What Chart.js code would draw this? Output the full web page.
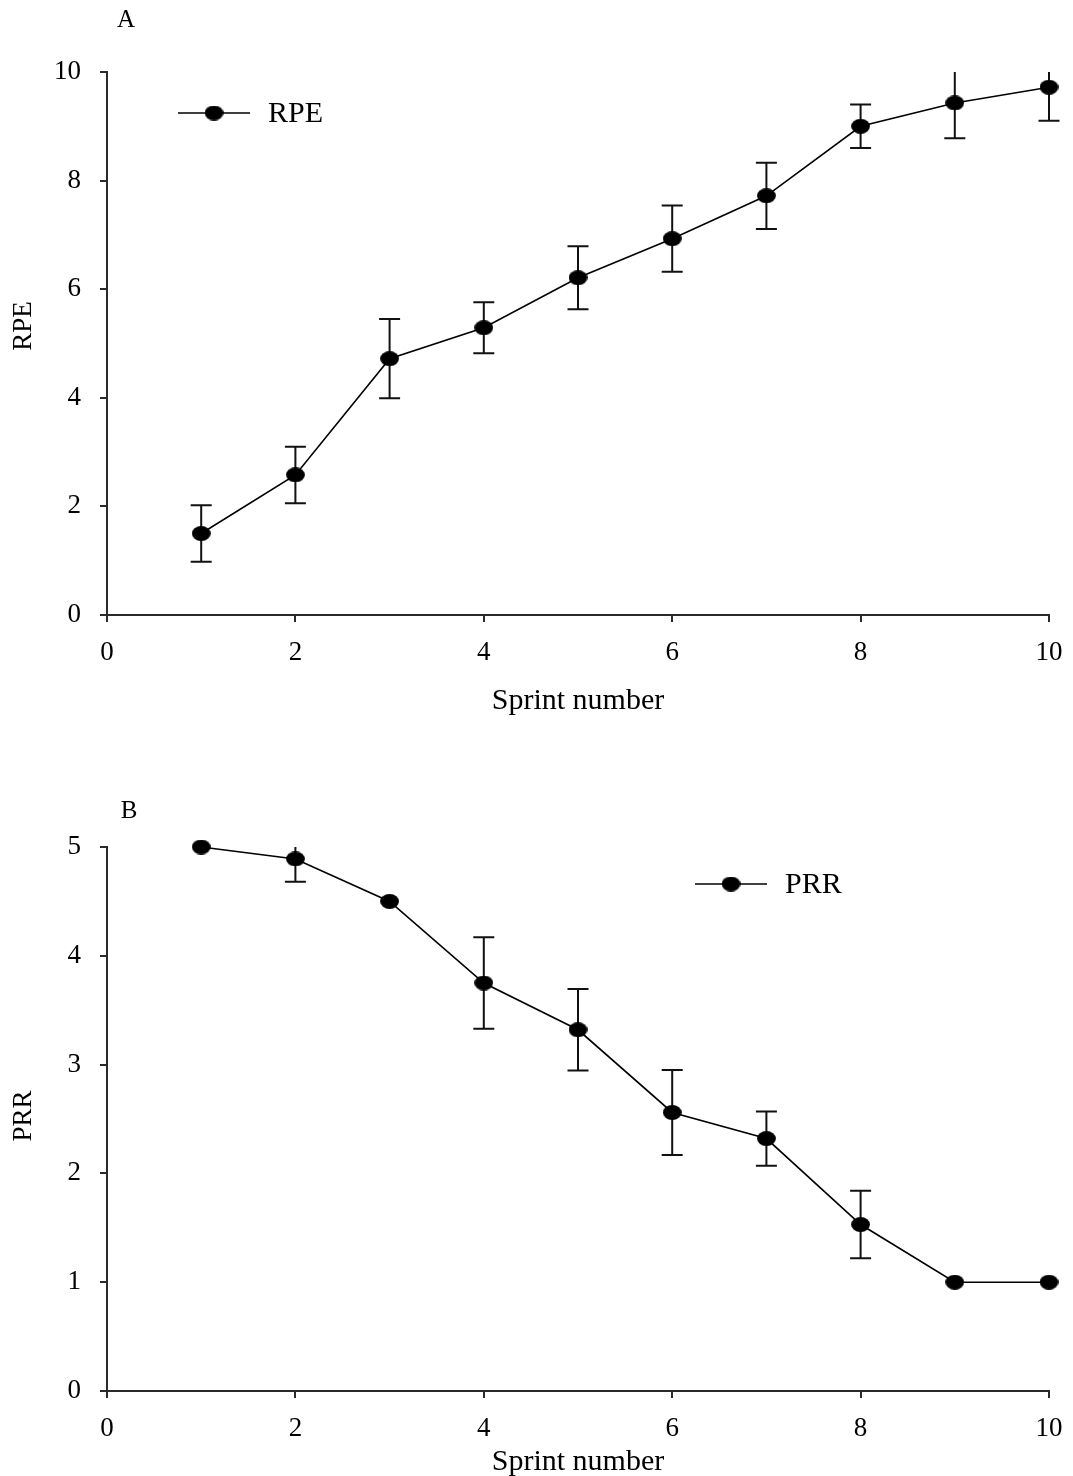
<!DOCTYPE html>
<html>
<head>
<meta charset="utf-8">
<script src="https://cdn.jsdelivr.net/npm/chart.js@4.4.1/dist/chart.umd.min.js"></script>
<style>
  html, body { margin: 0; padding: 0; background: #fff; }
  #wrap { position: relative; width: 1073px; height: 1476px; overflow: hidden; }
  canvas { position: absolute; left: 0; }
  #chartA { top: 0; }
  #chartB { top: 740px; }
</style>
</head>
<body>
<div id="wrap">
  <canvas id="chartA" width="1073" height="740"></canvas>
  <canvas id="chartB" width="1073" height="736"></canvas>
</div>
<script>
// Sprint index (x values shared by both panels)
const sprints = [1, 2, 3, 4, 5, 6, 7, 8, 9, 10];

// Panel A: rating of perceived exertion, mean and SD per sprint
const rpeMean = [1.50, 2.58, 4.72, 5.29, 6.21, 6.93, 7.72, 9.00, 9.43, 9.72];
const rpeSD   = [0.52, 0.52, 0.73, 0.47, 0.58, 0.61, 0.61, 0.40, 0.65, 0.62];

// Panel B: perceived recovery rating, mean and SD per sprint
const prrMean = [5.00, 4.89, 4.50, 3.75, 3.32, 2.56, 2.32, 1.53, 1.00, 1.00];
const prrSD   = [0, 0.21, 0, 0.42, 0.375, 0.39, 0.25, 0.31, 0, 0];

// Axis tick settings
const xTickMax = 10, xTickStep = 2;
const rpeTickMax = 10, rpeTickStep = 2;
const prrTickMax = 5, prrTickStep = 1;

const FONT = "'Liberation Serif', 'Times New Roman', serif";
const AXIS = '#2a2a2a';

// Filled black ellipse used as the marker
function makeMarker() {
  const c = document.createElement('canvas');
  c.width = 19; c.height = 15;
  const g = c.getContext('2d');
  g.fillStyle = '#000';
  g.beginPath();
  g.ellipse(9.5, 7.5, 9.4, 7.4, 0, 0, Math.PI * 2);
  g.fill();
  return c;
}
const marker = makeMarker();

// Vertical SD whiskers with caps; whiskers running past the axis limits stop there without a cap
const errorBars = {
  id: 'errorBars',
  beforeDatasetsDraw(chart) {
    const { ctx, scales: { x, y } } = chart;
    const ds = chart.data.datasets[0];
    const errs = ds.errors || [];
    const cap = 10.5;
    ctx.save();
    ctx.strokeStyle = '#111';
    ctx.lineWidth = 2;
    ds.data.forEach((p, i) => {
      const e = errs[i];
      if (!e) return;
      const px = x.getPixelForValue(p.x);
      const hi = p.y + e, lo = p.y - e;
      const yHi = y.getPixelForValue(Math.min(hi, y.max));
      const yLo = y.getPixelForValue(Math.max(lo, y.min));
      ctx.beginPath();
      ctx.moveTo(px, yHi); ctx.lineTo(px, yLo);
      if (hi <= y.max) { ctx.moveTo(px - cap, yHi); ctx.lineTo(px + cap, yHi); }
      if (lo >= y.min) { ctx.moveTo(px - cap, yLo); ctx.lineTo(px + cap, yLo); }
      ctx.stroke();
    });
    ctx.restore();
  }
};

// Panel letter, rotated y-axis title and in-plot legend entry
const panelDecor = {
  id: 'panelDecor',
  afterDraw(chart, args, o) {
    const { ctx } = chart;
    const ds = chart.data.datasets[0];
    ctx.save();
    ctx.fillStyle = '#000';
    ctx.font = '25px ' + FONT;
    ctx.textAlign = 'center';
    ctx.textBaseline = 'middle';
    ctx.fillText(o.letter, o.letterX, o.letterY);

    ctx.save();
    ctx.translate(o.yTitleX, o.yTitleY);
    ctx.rotate(-Math.PI / 2);
    ctx.font = '27px ' + FONT;
    ctx.fillText(ds.label, 0, 0);
    ctx.restore();

    ctx.strokeStyle = '#000';
    ctx.lineWidth = 1.6;
    ctx.beginPath();
    ctx.moveTo(o.legX, o.legY);
    ctx.lineTo(o.legX + 72, o.legY);
    ctx.stroke();
    ctx.drawImage(marker, o.legX + 36 - marker.width / 2, o.legY - marker.height / 2);
    ctx.font = '30px ' + FONT;
    ctx.textAlign = 'left';
    ctx.fillText(ds.label, o.legX + 90, o.legY + 1);
    ctx.restore();
  }
};

function buildChart(id, label, means, errs, yMax, yStep, padTop, xHeight, titlePadBottom, decor) {
  const points = sprints.map((s, i) => ({ x: s, y: means[i] }));
  return new Chart(document.getElementById(id), {
    type: 'line',
    data: {
      datasets: [{
        label: label,
        data: points,
        errors: errs,
        borderColor: '#000',
        borderWidth: 1.6,
        pointStyle: marker,
        pointRadius: 9,
        pointHoverRadius: 9,
        backgroundColor: '#000',
        tension: 0,
        fill: false,
        clip: false
      }]
    },
    options: {
      responsive: false,
      animation: false,
      events: [],
      layout: { padding: { top: padTop, right: 24, left: 0, bottom: 0 } },
      plugins: {
        legend: { display: false },
        tooltip: { enabled: false },
        panelDecor: decor
      },
      scales: {
        x: {
          type: 'linear',
          min: 0, max: xTickMax,
          afterFit(s) { s.height = xHeight; s.paddingLeft = 0; s.paddingRight = 0; },
          ticks: { stepSize: xTickStep, color: '#000', font: { family: FONT, size: 27 }, padding: 15, maxRotation: 0 },
          grid: { drawOnChartArea: false, drawTicks: true, tickLength: 7, color: AXIS, lineWidth: 2 },
          border: { display: true, color: AXIS, width: 2 },
          title: { display: true, text: 'Sprint number', color: '#000', font: { family: FONT, size: 30 }, padding: { top: 0, bottom: titlePadBottom } }
        },
        y: {
          type: 'linear',
          min: 0, max: yMax,
          afterFit(s) { s.width = 107; s.paddingTop = 0; s.paddingBottom = 0; },
          ticks: { stepSize: yStep, color: '#000', font: { family: FONT, size: 27 }, padding: 19 },
          grid: { drawOnChartArea: false, drawTicks: true, tickLength: 7, color: AXIS, lineWidth: 2 },
          border: { display: true, color: AXIS, width: 2 },
          title: { display: false }
        }
      }
    },
    plugins: [errorBars, panelDecor]
  });
}

buildChart('chartA', 'RPE', rpeMean, rpeSD, rpeTickMax, rpeTickStep, 72, 125, 21,
  { letter: 'A', letterX: 126, letterY: 20, legX: 178, legY: 113, yTitleX: 24, yTitleY: 326 });
buildChart('chartB', 'PRR', prrMean, prrSD, prrTickMax, prrTickStep, 107, 85, -4,
  { letter: 'B', letterX: 129, letterY: 71, legX: 695, legY: 144, yTitleX: 24, yTitleY: 376 });
</script>
</body>
</html>
